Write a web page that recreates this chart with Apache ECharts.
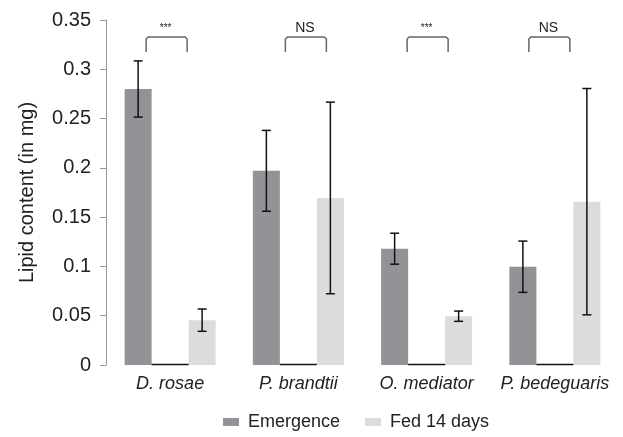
<!DOCTYPE html>
<html>
<head>
<meta charset="utf-8">
<script src="https://cdn.jsdelivr.net/npm/echarts@6/dist/echarts.min.js"></script>
<style>
  html, body { margin: 0; padding: 0; background: #fff; }
  #chart { width: 623px; height: 437px; }
</style>
</head>
<body>
<div id="chart"></div>
<script>
// species
const species = ['D. rosae', 'P. brandtii', 'O. mediator', 'P. bedeguaris']
// mean lipid content (mg)
const emergence = [0.28, 0.197, 0.118, 0.0997]
const fed14 = [0.0455, 0.1695, 0.0495, 0.1657]
// error bar half widths
const emergenceErr = [0.0285, 0.041, 0.0157, 0.026]
const fedErr = [0.0113, 0.0972, 0.0052, 0.1148]
// significance labels
const sigLabels = ['***', 'NS', '***', 'NS']
const yTicks = [0, 0.05, 0.1, 0.15, 0.2, 0.25, 0.3, 0.35]

const FONT = '"Liberation Sans", Arial, sans-serif'
const BAR_W = 27
const OFFSET = 32 // px from category centre to each bar centre
// brackets in the original sit a little off-centre
const bracketShift = [-3.5, 7.5, 1, -5.5]

const chart = echarts.init(document.getElementById('chart'))

const errData = []
species.forEach((s, i) => {
  errData.push([i, emergence[i] - emergenceErr[i], emergence[i] + emergenceErr[i], -1])
  errData.push([i, fed14[i] - fedErr[i], fed14[i] + fedErr[i], 1])
})

const renderErr = (params, api) => {
  const side = api.value(3)
  const lo = api.coord([api.value(0), api.value(1)])
  const hi = api.coord([api.value(0), api.value(2)])
  const x = lo[0] + side * OFFSET
  const style = { stroke: '#111', lineWidth: 1.5 }
  return {
    type: 'group',
    children: [
      { type: 'line', shape: { x1: x, y1: lo[1], x2: x, y2: hi[1] }, style },
      { type: 'line', shape: { x1: x - 4.5, y1: lo[1], x2: x + 4.5, y2: lo[1] }, style },
      { type: 'line', shape: { x1: x - 4.5, y1: hi[1], x2: x + 4.5, y2: hi[1] }, style }
    ]
  }
}

// baseline segment between the two bars + significance bracket
const renderSig = (params, api) => {
  const i = api.value(0)
  const base = api.coord([i, 0])
  const top = api.coord([i, yTicks[yTicks.length - 1]])
  const cx = base[0]
  const bc = cx + bracketShift[i]
  const gray = { stroke: '#666', lineWidth: 1.5, fill: null }
  const bx1 = bc - 20.5, bx2 = bc + 20.5
  const by1 = top[1] + 17, by2 = top[1] + 32
  return {
    type: 'group',
    children: [
      { type: 'line', shape: { x1: cx - OFFSET + BAR_W / 2, y1: base[1] - 0.5, x2: cx + OFFSET - BAR_W / 2, y2: base[1] - 0.5 }, style: { stroke: '#111', lineWidth: 1.5 } },
      {
        type: 'polyline',
        shape: { points: [[bx1, by2], [bx1, by1 + 2], [bx1 + 2, by1], [bx2 - 2, by1], [bx2, by1 + 2], [bx2, by2]] },
        style: gray
      },
      {
        type: 'text',
        x: bc - 1,
        y: top[1] + 8,
        style: {
          text: sigLabels[i],
          fontFamily: FONT,
          fontSize: sigLabels[i] === 'NS' ? 14 : 10,
          fill: '#222',
          align: 'center',
          verticalAlign: 'middle'
        }
      }
    ]
  }
}

const option = {
  animation: false,
  textStyle: { fontFamily: FONT },
  legend: {
    bottom: 1,
    left: 218,
    itemWidth: 16,
    itemHeight: 8,
    itemGap: 25,
    icon: 'rect',
    textStyle: { fontFamily: FONT, fontSize: 18, color: '#222', padding: [0, 0, 0, 4] },
    data: ['Emergence', 'Fed 14 days']
  },
  grid: { left: 106, right: 4, top: 20, bottom: 72 },
  xAxis: {
    type: 'category',
    data: species,
    axisLine: { show: false },
    axisTick: { show: false },
    axisLabel: { interval: 0, hideOverlap: false, fontStyle: 'italic', fontSize: 18, color: '#222', fontFamily: FONT, margin: 10 }
  },
  yAxis: {
    type: 'value',
    min: yTicks[0],
    max: yTicks[yTicks.length - 1],
    interval: 0.05,
    name: 'Lipid content (in mg)',
    nameLocation: 'middle',
    nameGap: 69,
    nameTextStyle: { fontSize: 20, color: '#222', fontFamily: FONT },
    axisLine: { show: true, lineStyle: { color: '#999', width: 1 } },
    axisTick: { show: true, length: 6, lineStyle: { color: '#999' } },
    axisLabel: { fontSize: 20, color: '#222', fontFamily: FONT, margin: 15 },
    splitLine: { show: false }
  },
  series: [
    {
      name: 'Emergence',
      type: 'bar',
      data: emergence,
      barWidth: BAR_W,
      barGap: ((2 * OFFSET - BAR_W) / BAR_W * 100) + '%',
      itemStyle: { color: '#939397' }
    },
    {
      name: 'Fed 14 days',
      type: 'bar',
      data: fed14,
      barWidth: BAR_W,
      itemStyle: { color: '#dcdcde' }
    },
    {
      type: 'custom',
      renderItem: renderErr,
      data: errData,
      z: 5,
      silent: true
    },
    {
      type: 'custom',
      renderItem: renderSig,
      data: species.map((s, i) => [i]),
      z: 5,
      silent: true
    }
  ]
}

chart.setOption(option)
</script>
</body>
</html>
